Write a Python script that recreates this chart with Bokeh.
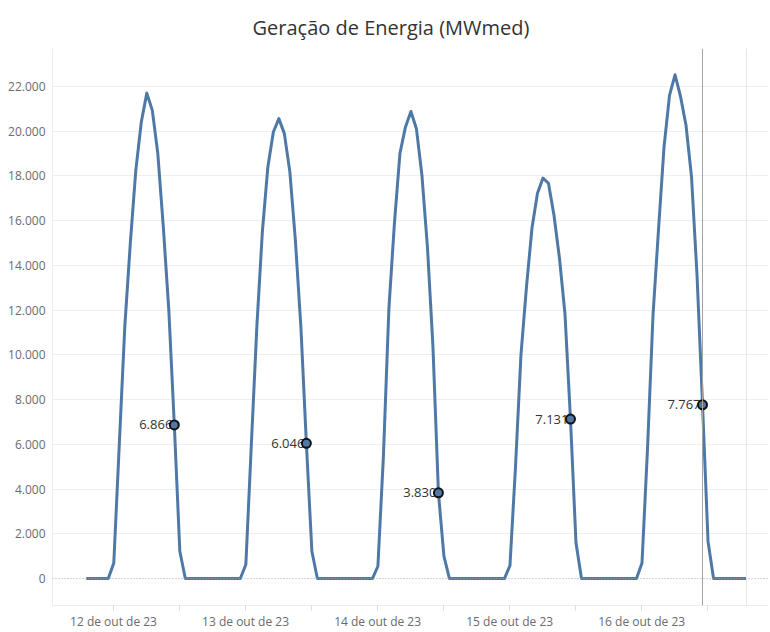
from bokeh.plotting import figure
from bokeh.models import Range1d, FixedTicker, Span, ColumnDataSource
from bokeh.embed import file_html
from bokeh.resources import INLINE
from bokeh.core.properties import value

title_text = "Geração de Energia (MWmed)"

# hourly points, hour 0 = 12 de out de 23 00:00
hours = list(range(121))
generation = [
    0, 0, 0, 0, 0,
    700, 6000, 11260, 14980, 18250, 20410, 21700, 20930, 19000, 15720, 12000, 6866, 1220,
    0, 0, 0, 0, 0, 0, 0, 0, 0, 0, 0,
    625, 6000, 11260, 15500, 18400, 19960, 20560, 19890, 18180, 15130, 11260, 6046, 1220,
    0, 0, 0, 0, 0, 0, 0, 0, 0, 0, 0,
    550, 5460, 12080, 15870, 19000, 20180, 20880, 20110, 18030, 14830, 10400, 3830, 1000,
    0, 0, 0, 0, 0, 0, 0, 0, 0, 0, 0,
    580, 4950, 10000, 13030, 15660, 17220, 17900, 17670, 16240, 14320, 11830, 7131, 1600,
    0, 0, 0, 0, 0, 0, 0, 0, 0, 0, 0,
    700, 5800, 11780, 15600, 19290, 21600, 22520, 21550, 20260, 17950, 13560, 7767, 1660,
    0, 0, 0, 0, 0, 0, 0,
]
marker_hours = [16, 40, 64, 88, 112]
now_hour = 112
last_hour = 120

y_ticks = [0, 2000, 4000, 6000, 8000, 10000, 12000, 14000, 16000, 18000, 20000, 22000]
y_tick_labels = ["0", "2.000", "4.000", "6.000", "8.000", "10.000", "12.000",
                 "14.000", "16.000", "18.000", "20.000", "22.000"]
x_ticks = [4.95, 16.95, 28.95, 40.95, 52.95, 64.95, 76.95, 88.95, 100.95, 112.95]
x_tick_labels = ["12 de out de 23", "", "13 de out de 23", "", "14 de out de 23", "",
                 "15 de out de 23", "", "16 de out de 23", ""]

BLUE = "#4e79a7"
FONT = "Open Sans"

p = figure(width=768, height=632, output_backend="svg", toolbar_location=None,
           x_range=Range1d(-6.14, 123.99), y_range=Range1d(-1205, 23695),
           min_border_left=52, min_border_right=0, min_border_top=48, min_border_bottom=24,
           background_fill_color="white", border_fill_color="white")
p.outline_line_color = None

p.title.text = title_text
p.title.align = "left"
p.title.offset = 200
p.title.text_font = FONT
p.title.text_font_size = "20px"
p.title.text_font_style = "normal"
p.title.text_color = "#333333"
p.title.standoff = 16

# grid
p.xgrid.visible = False
p.ygrid.ticker = FixedTicker(ticks=y_ticks[1:])
p.ygrid.grid_line_color = "#efefef"
p.ygrid.grid_line_width = 1

# y axis
yax = p.yaxis[0]
yax.ticker = FixedTicker(ticks=y_ticks)
yax.major_label_overrides = {t: s for t, s in zip(y_ticks, y_tick_labels)}
yax.major_tick_out = 0
yax.major_tick_in = 0
yax.minor_tick_out = 0
yax.minor_tick_in = 0
yax.axis_line_color = "#ececec"
yax.major_label_text_font = FONT
yax.major_label_text_font_size = "12px"
yax.major_label_text_color = "#6b6b6b"
yax.major_label_standoff = 7

# x axis
xax = p.xaxis[0]
xax.ticker = FixedTicker(ticks=x_ticks)
xax.major_label_overrides = {t: s for t, s in zip(x_ticks, x_tick_labels)}
xax.major_tick_out = 5
xax.major_tick_in = 0
xax.minor_tick_out = 0
xax.minor_tick_in = 0
xax.major_tick_line_color = "#dcdcdc"
xax.axis_line_color = "#ececec"
xax.major_label_text_font = FONT
xax.major_label_text_font_size = "12px"
xax.major_label_text_color = "#6b6b6b"
xax.major_label_standoff = 2

# reference lines
p.add_layout(Span(location=0, dimension="width", line_color="#a8a8a8",
                  line_dash="1 2", line_width=1))
p.add_layout(Span(location=last_hour, dimension="height", line_color="#e6e6ee", line_width=1))
p.add_layout(Span(location=now_hour, dimension="height", line_color="#a3a3a3", line_width=1))

src = ColumnDataSource(dict(x=hours, y=generation))
p.line("x", "y", source=src, line_color=BLUE, line_width=3, line_join="round")

mk_y = [generation[h] for h in marker_hours]
mk_txt = [f"{v:,}".replace(",", ".") for v in mk_y]
msrc = ColumnDataSource(dict(x=marker_hours, y=mk_y, t=mk_txt))
p.text("x", "y", text="t", source=msrc, x_offset=-2, text_align="right",
       text_baseline="middle", text_font=value(FONT), text_font_size="13px",
       text_color="#333333")
p.scatter("x", "y", source=msrc, size=9, fill_color=BLUE, line_color="#111111",
          line_width=2)

open("out.html", "w").write(file_html(p, INLINE))
